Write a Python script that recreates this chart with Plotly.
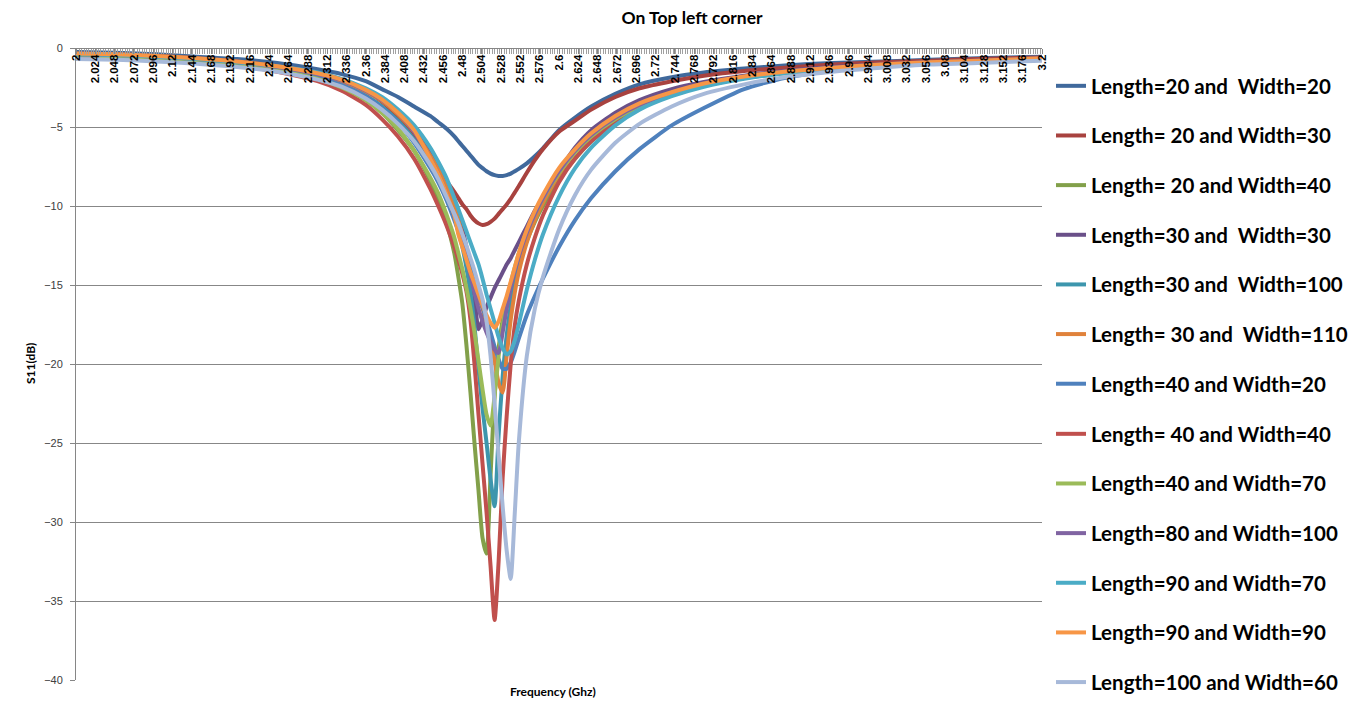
import plotly.graph_objects as go

# Frequency grid (GHz)
freq = [2.0, 2.05, 2.1, 2.15, 2.2, 2.25, 2.3, 2.33, 2.36, 2.38, 2.4, 2.42, 2.44, 2.45, 2.46,
        2.47, 2.475, 2.48, 2.485, 2.49, 2.495, 2.5, 2.505, 2.51, 2.515, 2.52, 2.525, 2.53,
        2.535, 2.54, 2.545, 2.55, 2.56, 2.57, 2.58, 2.6, 2.62, 2.64, 2.67, 2.7, 2.74, 2.78,
        2.83, 2.88, 2.94, 3.0, 3.06, 3.12, 3.2]

s_L20_W20 = [-0.25, -0.3, -0.4, -0.55, -0.7, -0.95, -1.35, -1.65, -2.1, -2.6, -3.1, -3.7, -4.3, -4.7, -5.1,
             -5.6, -5.9, -6.2, -6.5, -6.8, -7.1, -7.4, -7.6, -7.8, -7.95, -8.05, -8.1, -8.1,
             -8.05, -7.95, -7.8, -7.65, -7.3, -6.85, -6.35, -5.2, -4.4, -3.7, -2.9, -2.3, -1.85, -1.55,
             -1.3, -1.1, -0.95, -0.85, -0.75, -0.65, -0.55]
s_L20_W30 = [-0.35, -0.4, -0.5, -0.65, -0.85, -1.15, -1.6, -2.0, -2.7, -3.4, -4.4, -5.6, -7.0, -7.7, -8.4,
             -9.1, -9.5, -9.9, -10.2, -10.6, -10.9, -11.1, -11.2, -11.15, -11.0, -10.8, -10.5, -10.2,
             -9.9, -9.55, -9.15, -8.75, -7.9, -7.1, -6.4, -5.3, -4.6, -3.9, -3.1, -2.55, -2.1, -1.75,
             -1.45, -1.25, -1.05, -0.9, -0.8, -0.7, -0.6]
s_L20_W40 = [-0.45, -0.55, -0.65, -0.8, -1.05, -1.35, -1.9, -2.4, -3.3, -4.1, -5.2, -6.5, -8.4, -9.6, -11.0,
             -13.0, -14.5, -16.2, -18.8, -21.8, -25.0, -28.0, -31.0, -32.0, -27.0, -22.0, -19.0, -17.2,
             -16.0, -15.0, -14.2, -13.5, -12.2, -11.0, -10.0, -8.3, -7.0, -5.9, -4.7, -3.8, -3.0, -2.4,
             -1.9, -1.6, -1.3, -1.1, -0.95, -0.85, -0.7]
s_L30_W30 = [-0.4, -0.45, -0.55, -0.7, -0.9, -1.2, -1.65, -2.05, -2.7, -3.3, -4.1, -5.2, -6.6, -7.5, -8.5,
             -9.7, -10.5, -11.4, -12.6, -14.0, -15.8, -17.8, -17.2, -16.4, -15.8, -15.2, -14.7, -14.2,
             -13.7, -13.3, -12.8, -12.3, -11.3, -10.3, -9.5, -7.8, -6.3, -5.2, -4.1, -3.3, -2.6, -2.15,
             -1.75, -1.45, -1.2, -1.05, -0.9, -0.8, -0.7]
s_L30_W100 = [-0.45, -0.5, -0.6, -0.75, -0.95, -1.3, -1.8, -2.3, -3.0, -3.7, -4.6, -5.8, -7.3, -8.2, -9.3,
              -10.7, -11.6, -12.6, -13.9, -15.5, -17.6, -20.3, -22.8, -25.0, -27.3, -29.0, -24.5, -20.8,
              -18.2, -16.3, -14.9, -13.8, -12.0, -10.6, -9.5, -7.8, -6.5, -5.5, -4.4, -3.6, -2.85, -2.3,
              -1.85, -1.55, -1.3, -1.1, -0.95, -0.85, -0.7]
s_L30_W110 = [-0.4, -0.45, -0.55, -0.7, -0.9, -1.2, -1.65, -2.1, -2.75, -3.35, -4.2, -5.3, -6.8, -7.7, -8.8,
              -10.1, -10.9, -11.8, -12.8, -13.9, -15.0, -15.8, -16.5, -17.4, -18.5, -19.8, -21.2, -21.8,
              -19.5, -17.2, -15.5, -14.2, -12.3, -10.9, -9.8, -8.0, -6.6, -5.6, -4.5, -3.7, -2.9, -2.35,
              -1.9, -1.55, -1.3, -1.1, -0.95, -0.85, -0.7]
s_L40_W20 = [-0.5, -0.55, -0.65, -0.8, -1.0, -1.35, -1.85, -2.35, -3.05, -3.8, -4.7, -6.0, -7.6, -8.5, -9.6,
             -10.9, -11.6, -12.4, -13.2, -14.0, -14.8, -15.6, -16.4, -17.2, -18.0, -18.9, -19.7, -20.3,
             -20.3, -19.9, -19.2, -18.4, -16.9, -15.7, -14.6, -12.6, -10.9, -9.5, -7.8, -6.4, -4.9, -3.8,
             -2.6, -1.9, -1.45, -1.2, -1.0, -0.9, -0.75]
s_L40_W40 = [-0.5, -0.6, -0.7, -0.85, -1.1, -1.5, -2.1, -2.7, -3.6, -4.5, -5.6, -7.0, -8.9, -10.0, -11.2,
             -12.6, -13.4, -14.3, -15.4, -17.2, -20.0, -23.2, -26.3, -29.4, -32.8, -36.2, -32.5, -27.2,
             -23.3, -20.0, -17.6, -16.0, -13.7, -12.0, -10.6, -8.5, -7.0, -5.9, -4.7, -3.8, -3.0, -2.4,
             -1.9, -1.55, -1.3, -1.1, -0.95, -0.85, -0.7]
s_L40_W70 = [-0.45, -0.55, -0.65, -0.8, -1.0, -1.4, -1.95, -2.5, -3.3, -4.1, -5.1, -6.5, -8.2, -9.2, -10.5,
             -12.0, -13.0, -14.0, -15.2, -16.5, -18.0, -19.8, -21.6, -23.2, -23.9, -22.0, -19.5, -17.6,
             -16.1, -14.9, -13.9, -13.0, -11.6, -10.5, -9.5, -7.9, -6.6, -5.6, -4.5, -3.7, -2.9, -2.35,
             -1.9, -1.55, -1.3, -1.1, -0.95, -0.85, -0.7]
s_L80_W100 = [-0.4, -0.45, -0.55, -0.7, -0.9, -1.2, -1.65, -2.05, -2.7, -3.3, -4.1, -5.3, -7.0, -8.0, -9.2,
              -10.6, -11.4, -12.3, -13.3, -14.4, -15.5, -16.5, -17.3, -18.0, -18.6, -19.1, -19.3, -18.0,
              -16.5, -15.2, -14.1, -13.2, -11.7, -10.5, -9.5, -7.8, -6.5, -5.5, -4.4, -3.6, -2.85, -2.3,
              -1.85, -1.5, -1.25, -1.05, -0.9, -0.8, -0.65]
s_L90_W70 = [-0.4, -0.45, -0.55, -0.7, -0.9, -1.15, -1.55, -1.95, -2.55, -3.1, -3.9, -4.9, -6.3, -7.2, -8.2,
             -9.5, -10.2, -10.9, -11.6, -12.3, -13.0, -13.7, -14.6, -15.6, -16.5, -17.4, -18.3, -19.0,
             -19.4, -19.2, -18.5, -17.5, -15.3, -13.4, -11.8, -9.4, -7.6, -6.3, -4.9, -3.9, -3.05, -2.45,
             -1.95, -1.6, -1.3, -1.1, -0.95, -0.85, -0.7]
s_L90_W90 = [-0.35, -0.4, -0.5, -0.65, -0.85, -1.15, -1.6, -2.0, -2.65, -3.25, -4.1, -5.2, -7.0, -8.0, -9.2,
             -10.6, -11.8, -12.6, -13.4, -14.2, -14.9, -15.6, -16.3, -16.9, -17.4, -17.7, -17.3, -16.5,
             -15.7, -14.8, -13.9, -13.0, -11.5, -10.3, -9.3, -7.6, -6.4, -5.4, -4.3, -3.5, -2.8, -2.25,
             -1.8, -1.5, -1.25, -1.05, -0.9, -0.8, -0.65]
s_L100_W60 = [-0.7, -0.75, -0.85, -1.0, -1.2, -1.5, -2.0, -2.45, -3.2, -3.9, -4.8, -5.9, -7.4, -8.3, -9.4,
              -10.5, -11.1, -11.8, -12.5, -13.3, -14.1, -15.0, -15.9, -17.3, -19.5, -22.5, -25.8, -29.0,
              -31.8, -33.6, -29.5, -25.0, -19.5, -16.5, -14.5, -11.5, -9.3, -7.7, -6.0, -4.8, -3.7, -2.9,
              -2.3, -1.85, -1.5, -1.25, -1.05, -0.95, -0.8]

series_names = ["Length=20 and  Width=20", "Length= 20 and Width=30", "Length= 20 and Width=40",
                "Length=30 and  Width=30", "Length=30 and  Width=100", "Length= 30 and  Width=110",
                "Length=40 and Width=20", "Length= 40 and Width=40", "Length=40 and Width=70",
                "Length=80 and Width=100", "Length=90 and Width=70", "Length=90 and Width=90",
                "Length=100 and Width=60"]
series_values = [s_L20_W20, s_L20_W30, s_L20_W40, s_L30_W30, s_L30_W100, s_L30_W110, s_L40_W20,
                 s_L40_W40, s_L40_W70, s_L80_W100, s_L90_W70, s_L90_W90, s_L100_W60]
series_colors = ["#40699C", "#A8423F", "#82A04A", "#6A5089", "#3D96AD", "#E0823B", "#4F81BD",
                 "#C0504D", "#9BBB59", "#8064A2", "#4BACC6", "#F79646", "#A7B9D9"]

# x tick labels every 0.024 GHz
tick_vals = [round(2 + 0.024 * i, 3) for i in range(51)]
tick_text = [("%.3f" % v).rstrip("0").rstrip(".") for v in tick_vals]

# page has an 8 px body margin; figure coordinates below are page coordinates minus 8
OFF = 8
W, H = 1368 - OFF, 702 - OFF
ML, MT = 76 - OFF, 48 - OFF
MR, MB = W - (1042 - OFF), H - (680 - OFF)
pw, ph = W - ML - MR, H - MT - MB


def px_x(p):
    """page x pixel -> paper fraction"""
    return (p - OFF - ML) / pw


def px_y(p):
    """page y pixel -> paper fraction"""
    return (H - MB - (p - OFF)) / ph


fig = go.Figure()
for i, (name, vals, col) in enumerate(zip(series_names, series_values, series_colors)):
    fig.add_trace(go.Scatter(x=freq, y=vals, mode="lines", name=name,
                             line=dict(color=col, width=4, shape="spline", smoothing=0.6),
                             legendgroup=str(i), legend="legend" if i < 7 else "legend2"))

leg_common = dict(xanchor="left", yanchor="top", tracegroupgap=20, itemwidth=30,
                  font=dict(family="Lato", size=20.5, color="black", weight="bold"),
                  bgcolor="rgba(0,0,0,0)")

fig.update_layout(
    width=W, height=H,
    margin=dict(l=ML, r=MR, t=MT, b=MB, autoexpand=False),
    paper_bgcolor="white", plot_bgcolor="white",
    title=dict(text="<b>On Top left corner</b>", x=(692 - OFF) / W, xanchor="center", xref="container",
               y=1 - (18 - OFF) / H, yref="container", yanchor="middle",
               font=dict(family="Lato", size=17.5, color="black")),
    showlegend=True,
    legend=dict(x=px_x(1051), y=px_y(66), **leg_common),
    legend2=dict(x=px_x(1051), y=px_y(414), **leg_common),
    xaxis=dict(range=[2, 3.2], side="bottom", anchor="free", position=1.0,
               tickmode="array", tickvals=tick_vals, ticktext=tick_text,
               tickangle=-90, automargin=False, ticklabelstandoff=-4,
               tickfont=dict(family="Liberation Sans", size=11.5, color="black", weight="bold"),
               showgrid=False, showline=True, linecolor="#868686", linewidth=1,
               ticks="outside", ticklen=5, tickcolor="#868686",
               minor=dict(dtick=0.003, ticks="outside", ticklen=5, tickcolor="#A0A0A0"),
               zeroline=False),
    yaxis=dict(range=[-40, 0], dtick=5, showgrid=True, gridcolor="#878787", gridwidth=1,
               showline=True, linecolor="#868686", ticks="outside", ticklen=5, tickcolor="#868686",
               automargin=False, ticklabelstandoff=5,
               tickfont=dict(family="Liberation Sans", size=11, color="#404040"), zeroline=False),
    annotations=[
        dict(text="<b>S11(dB)</b>", x=px_x(30), y=px_y(364), xref="paper", yref="paper",
             xanchor="center", yanchor="middle", showarrow=False,
             textangle=-90, font=dict(family="Lato", size=12, color="black")),
        dict(text="<b>Frequency (Ghz)</b>", x=px_x(553), y=px_y(691), xref="paper", yref="paper",
             xanchor="center", yanchor="middle", showarrow=False,
             font=dict(family="Lato", size=12, color="black")),
    ],
)

fig.write_html("out.html")
